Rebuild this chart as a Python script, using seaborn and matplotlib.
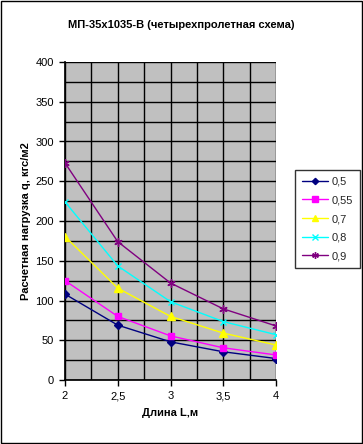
import matplotlib
matplotlib.use("Agg")
import matplotlib.pyplot as plt
import seaborn as sns
import pandas as pd
import numpy as np
from matplotlib.patches import Rectangle
from matplotlib.ticker import MultipleLocator, FuncFormatter

lengths = [2.0, 2.5, 3.0, 3.5, 4.0]
s_05 = [108, 69, 48, 35.5, 27]
s_055 = [125, 80, 55.5, 40.5, 31.5]
s_07 = [180.5, 115.5, 80, 59, 44]
s_08 = [224, 143.5, 98.5, 73.5, 57]
s_09 = [273, 174, 122, 89.5, 68]
series_names = ["0,5", "0,55", "0,7", "0,8", "0,9"]
series_vals = [s_05, s_055, s_07, s_08, s_09]
title = "МП-35x1035-В (четырехпролетная схема)"
xlabel = "Длина L,м"
ylabel = "Расчетная нагрузка q, кгс/м2"

rows = []
for n, vals in zip(series_names, series_vals):
    for x, y in zip(lengths, vals):
        rows.append({"L": x, "q": y, "s": n})
df = pd.DataFrame(rows)

sns.set_theme(style="white")
plt.rcParams['font.family'] = ['Liberation Sans', 'DejaVu Sans']

fig = plt.figure(figsize=(3.63, 4.44), dpi=100)
fig.patch.set_facecolor("white")
ax = fig.add_axes([65/363, 1-380/444, (276-65)/363, (380-62)/444])
ax.set_facecolor("#C0C0C0")

palette = {"0,5": "#000080", "0,55": "#FF00FF", "0,7": "#FFFF00", "0,8": "#00FFFF", "0,9": "#800080"}
markers = {"0,5": "D", "0,55": "s", "0,7": "^", "0,8": "x", "0,9": (6, 2, 0)}
sizes = {"0,5": 4, "0,55": 5, "0,7": 6, "0,8": 5, "0,9": 6}

for n in series_names:
    sub = df[df.s == n]
    sns.lineplot(data=sub, x="L", y="q", ax=ax, color=palette[n], marker=markers[n],
                 markersize=sizes[n], markeredgecolor=palette[n], markerfacecolor=palette[n],
                 linewidth=1, label=n, zorder=3, markeredgewidth=1)

ax.set_xlim(2, 4)
ax.set_ylim(0, 400)
ax.xaxis.set_major_locator(MultipleLocator(0.5))
ax.xaxis.set_minor_locator(MultipleLocator(0.25))
ax.yaxis.set_major_locator(MultipleLocator(50))
ax.yaxis.set_minor_locator(MultipleLocator(25))
ax.xaxis.set_major_formatter(FuncFormatter(lambda v, p: (f"{v:g}").replace(".", ",")))
ax.grid(True, which="both", color="black", linewidth=1, zorder=1)
ax.set_axisbelow(True)
for sp in ax.spines.values():
    sp.set_visible(False)
ax.spines["left"].set_visible(True)
ax.spines["bottom"].set_visible(True)
ax.spines["left"].set_color("black")
ax.spines["bottom"].set_color("black")
ax.tick_params(axis="both", which="major", direction="out", length=4, width=1, color="black",
               labelsize=8, labelcolor="black", left=True, bottom=True, pad=4)
ax.tick_params(which="minor", length=0)

ax.set_xlabel(xlabel, fontsize=8, fontweight="bold", color="black", labelpad=5)
ax.set_ylabel(ylabel, fontsize=8, fontweight="bold", color="black", labelpad=3)
fig.text(0.5, 1-25/444, title, ha="center", va="center", fontsize=8, fontweight="bold", color="black")

leg = ax.legend(loc="upper left", bbox_to_anchor=(295/363, 1-170/444), bbox_transform=fig.transFigure,
                frameon=True, fancybox=False, fontsize=8, handlelength=2.4, borderpad=0.6,
                labelspacing=0.78, handletextpad=0.3, borderaxespad=0, markerscale=0.8)
leg.get_frame().set_edgecolor("black")
leg.get_frame().set_linewidth(1)
leg.get_frame().set_facecolor("white")

fig.patches.append(Rectangle((0.0015, 0.0015), 0.997, 0.997, transform=fig.transFigure,
                             fill=False, edgecolor="black", linewidth=1))

fig.savefig("out.png", dpi=100)
